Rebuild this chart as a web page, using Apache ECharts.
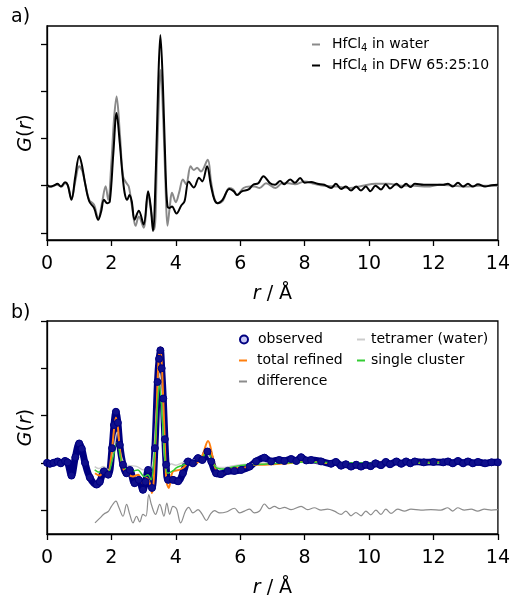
<!DOCTYPE html>
<html>
<head>
<meta charset="utf-8">
<script src="https://cdn.jsdelivr.net/npm/echarts@6/dist/echarts.min.js"></script>
<style>
  html, body { margin: 0; padding: 0; background: #fff; }
  #chart { width: 513px; height: 599px; }
</style>
</head>
<body>
<div id="chart"></div>
<script>
// panel a: G(r) of HfCl4 in two solvents, [r, G]
const water = [
  [0, 0.0], [0.15, -0.02], [0.3, 0.02], [0.45, -0.02], [0.56, 0.05], [0.65, 0.0], [0.76, -0.28],
  [0.88, 0.1], [1.0, 0.41], [1.1, 0.3], [1.2, 0.0], [1.31, -0.3], [1.46, -0.4], [1.59, -0.7],
  [1.7, -0.4], [1.82, -0.01], [1.9, -0.3], [2.0, 0.5], [2.08, 1.4], [2.16, 1.89], [2.26, 1.12],
  [2.36, 0.2], [2.46, 0.06], [2.54, -0.02], [2.64, -0.44], [2.75, -0.85], [2.85, -0.65],
  [3.0, -0.89], [3.14, -0.16], [3.22, -0.5], [3.33, -0.93], [3.42, 0.69], [3.53, 2.45],
  [3.62, 1.2], [3.68, 0.0], [3.74, -0.85], [3.82, -0.4], [3.88, -0.15], [4.0, -0.35],
  [4.1, -0.15], [4.22, 0.13], [4.32, 0.03], [4.46, 0.41], [4.56, 0.33], [4.66, 0.38],
  [4.78, 0.3], [4.99, 0.55], [5.09, 0.1], [5.2, -0.28], [5.3, -0.37], [5.45, -0.33],
  [5.66, -0.05], [5.78, -0.08], [5.9, -0.2], [6.1, -0.05], [6.3, -0.02], [6.45, -0.02],
  [6.6, -0.05], [6.8, 0.05], [7.1, -0.05], [7.3, 0.05], [7.5, 0.05], [7.7, 0.03], [8.0, 0.09],
  [8.3, 0.04], [8.6, 0.0], [9.0, -0.02], [9.4, -0.05], [9.8, 0.0], [10.2, 0.04], [10.6, 0.04],
  [11.0, 0.0], [11.4, 0.0], [11.8, -0.02], [12.2, 0.02], [12.6, 0.0], [13.0, -0.02],
  [13.4, 0.0], [14, 0.0],
]
const dfw = [
  [0, 0.02], [0.09, -0.02], [0.2, 0.0], [0.33, 0.04], [0.43, -0.02], [0.56, 0.07], [0.64, 0.02],
  [0.76, -0.3], [0.88, 0.2], [1.0, 0.63], [1.08, 0.45], [1.18, 0.06], [1.31, -0.33],
  [1.46, -0.47], [1.59, -0.72], [1.68, -0.55], [1.77, -0.3], [1.87, -0.37], [1.95, -0.33],
  [2.06, 0.69], [2.16, 1.54], [2.26, 0.9], [2.33, 0.34], [2.41, -0.15], [2.49, -0.3],
  [2.56, -0.2], [2.63, -0.33], [2.72, -0.72], [2.85, -0.53], [3.0, -0.82], [3.14, -0.12],
  [3.22, -0.44], [3.29, -0.96], [3.38, 0.34], [3.45, 2.1], [3.52, 3.19], [3.6, 2.1],
  [3.68, 0.34], [3.74, -0.44], [3.81, -0.47], [3.88, -0.44], [4.02, -0.59], [4.17, -0.42],
  [4.27, -0.33], [4.4, 0.09], [4.56, -0.04], [4.72, 0.17], [4.82, 0.09], [4.97, 0.41],
  [5.09, 0.0], [5.2, -0.3], [5.3, -0.37], [5.45, -0.3], [5.66, -0.07], [5.8, -0.12],
  [5.9, -0.2], [6.05, -0.12], [6.26, -0.08], [6.4, 0.02], [6.56, 0.05], [6.72, 0.2],
  [6.93, 0.05], [7.08, 0.02], [7.24, 0.1], [7.36, 0.03], [7.55, 0.13], [7.7, 0.06],
  [7.86, 0.16], [8.0, 0.06], [8.2, 0.08], [8.4, 0.04], [8.61, 0.02], [8.82, -0.05],
  [8.97, 0.04], [9.13, -0.07], [9.28, -0.02], [9.44, -0.1], [9.6, -0.02], [9.75, -0.1],
  [9.9, -0.02], [10.04, -0.12], [10.2, 0.0], [10.37, -0.08], [10.52, 0.03], [10.65, -0.06],
  [10.85, 0.04], [11.0, -0.04], [11.15, 0.04], [11.28, -0.03], [11.42, 0.04], [11.7, 0.02],
  [12.0, 0.02], [12.3, 0.02], [12.45, 0.04], [12.6, -0.02], [12.76, 0.06], [12.92, -0.02],
  [13.07, 0.04], [13.22, -0.02], [13.38, 0.03], [13.6, -0.02], [13.8, 0.01], [14, 0.02],
]

// panel b: fit of the DFW data, [r, G]
const observed = [
  [0, 0.0], [0.09, -0.02], [0.2, 0.0], [0.33, 0.03], [0.43, -0.01], [0.56, 0.04], [0.64, 0.01],
  [0.76, -0.27], [0.88, 0.12], [1.0, 0.41], [1.08, 0.3], [1.18, 0.0], [1.33, -0.31],
  [1.54, -0.46], [1.64, -0.4], [1.77, -0.18], [1.9, -0.25], [2.02, 0.31], [2.08, 0.8],
  [2.14, 1.08], [2.2, 0.85], [2.26, 0.38], [2.36, -0.04], [2.47, -0.22], [2.57, -0.15],
  [2.72, -0.43], [2.85, -0.36], [2.98, -0.57], [3.06, -0.4], [3.14, -0.15], [3.26, -0.53],
  [3.35, 0.31], [3.43, 1.71], [3.48, 2.2], [3.52, 2.38], [3.56, 2.0], [3.61, 1.36],
  [3.66, 0.5], [3.7, -0.04], [3.76, -0.36], [3.91, -0.36], [4.07, -0.39], [4.22, -0.22],
  [4.38, 0.03], [4.53, -0.01], [4.69, 0.1], [4.82, 0.06], [4.98, 0.24], [5.1, 0.03],
  [5.25, -0.22], [5.4, -0.24], [5.61, -0.17], [5.82, -0.17], [6.03, -0.15], [6.29, -0.08],
  [6.49, 0.03], [6.75, 0.11], [6.96, 0.03], [7.21, 0.06], [7.37, 0.04], [7.58, 0.08],
  [7.74, 0.04], [7.89, 0.12], [8.05, 0.05], [8.2, 0.06], [8.51, 0.03], [8.82, -0.02],
  [8.97, 0.02], [9.13, -0.06], [9.28, -0.03], [9.44, -0.08], [9.6, -0.04], [9.75, -0.08],
  [9.9, -0.04], [10.05, -0.07], [10.2, -0.01], [10.37, -0.05], [10.52, 0.02], [10.65, -0.03],
  [10.85, 0.03], [11.0, -0.02], [11.15, 0.03], [11.28, -0.01], [11.42, 0.03], [11.7, 0.01],
  [12.0, 0.02], [12.3, 0.01], [12.45, 0.03], [12.6, -0.01], [12.76, 0.04], [12.92, -0.01],
  [13.07, 0.03], [13.22, -0.01], [13.38, 0.02], [13.6, -0.01], [13.8, 0.01], [14, 0.01],
]
const refined = [
  [1.49, -0.22], [1.64, -0.27], [1.77, -0.15], [1.88, -0.24], [2.0, 0.17], [2.08, 0.7],
  [2.14, 0.96], [2.2, 0.75], [2.26, 0.31], [2.36, -0.11], [2.52, -0.24], [2.67, -0.29],
  [2.83, -0.25], [2.98, -0.43], [3.09, -0.32], [3.19, -0.43], [3.26, -0.64], [3.37, 0.45],
  [3.45, 1.99], [3.52, 2.45], [3.6, 1.5], [3.67, 0.17], [3.71, -0.39], [3.78, -0.53],
  [3.91, -0.18], [4.12, -0.15], [4.27, -0.08], [4.43, 0.03], [4.58, -0.01], [4.79, 0.1],
  [5.0, 0.46], [5.15, 0.1], [5.25, -0.15], [5.41, -0.24], [5.61, -0.18], [5.82, -0.11],
  [6.08, -0.11], [6.34, -0.04], [6.65, -0.04], [6.96, -0.03], [7.48, -0.01], [7.9, 0.03],
  [8.3, 0.02], [8.8, -0.01], [9.3, -0.02], [9.8, -0.01], [10.4, 0.0], [11.0, 0.01],
  [11.6, 0.0], [12.2, 0.01], [12.8, 0.0], [13.4, 0.01], [14, 0.0],
]
const difference = [
  [1.49, -1.27], [1.64, -1.17], [1.77, -1.08], [1.9, -1.03], [2.0, -0.92], [2.14, -0.81],
  [2.23, -0.94], [2.36, -1.13], [2.47, -0.88], [2.57, -1.09], [2.67, -1.27], [2.78, -1.13],
  [2.88, -1.25], [2.98, -1.09], [3.07, -1.13], [3.16, -0.67], [3.24, -0.88], [3.37, -1.09],
  [3.5, -0.88], [3.63, -1.13], [3.72, -0.85], [3.81, -1.09], [3.91, -0.92], [4.02, -0.97],
  [4.15, -1.27], [4.3, -1.02], [4.4, -0.94], [4.53, -1.06], [4.69, -0.99], [4.81, -1.08],
  [4.95, -1.22], [5.07, -1.09], [5.2, -1.01], [5.36, -1.06], [5.56, -1.04], [5.82, -0.96],
  [5.98, -1.06], [6.13, -1.02], [6.29, -0.98], [6.44, -1.06], [6.6, -1.02], [6.75, -0.87],
  [6.91, -0.97], [7.06, -0.92], [7.22, -0.97], [7.37, -0.94], [7.58, -0.99], [7.89, -0.92],
  [8.09, -0.99], [8.3, -0.95], [8.51, -1.0], [8.71, -0.98], [8.92, -1.02], [9.13, -1.09],
  [9.28, -1.02], [9.44, -1.12], [9.59, -1.05], [9.75, -1.12], [9.9, -1.02], [10.05, -1.1],
  [10.21, -1.0], [10.37, -1.09], [10.52, -0.98], [10.68, -1.07], [10.89, -0.98], [11.1, -1.02],
  [11.3, -0.98], [11.61, -1.0], [11.92, -0.99], [12.23, -1.0], [12.44, -0.95], [12.6, -1.02],
  [12.75, -0.95], [12.96, -1.0], [13.17, -0.98], [13.37, -1.02], [13.58, -0.98], [13.79, -1.0],
  [14, -0.99],
]
const tetramer = [
  [1.48, -0.08], [1.6, -0.12], [1.75, -0.08], [1.9, -0.15], [2.05, 0.2], [2.18, 0.65],
  [2.3, 0.15], [2.45, -0.05], [2.6, -0.06], [2.8, -0.08], [3.0, -0.15], [3.1, -0.1],
  [3.2, -0.2], [3.3, 0.1], [3.4, 1.1], [3.5, 1.9], [3.58, 1.0], [3.66, 0.05], [3.75, -0.1],
  [3.85, -0.02], [4.0, -0.05], [4.2, 0.0], [4.5, 0.05], [4.7, 0.1], [4.95, 0.2], [5.1, 0.05],
  [5.25, -0.08], [5.5, -0.1], [5.8, -0.06], [6.2, -0.03], [7.0, 0.0], [8.0, 0.01], [9.0, -0.01],
  [10.0, 0.0], [11.0, 0.0], [12.0, 0.0], [13.0, 0.0], [14, 0.0],
]
const single = [
  [1.48, -0.15], [1.63, -0.2], [1.79, -0.13], [1.89, -0.22], [2.04, 0.1], [2.18, 0.43],
  [2.3, 0.06], [2.41, -0.11], [2.61, -0.18], [2.82, -0.15], [3.02, -0.29], [3.13, -0.25],
  [3.23, -0.36], [3.33, 0.13], [3.42, 1.1], [3.49, 1.64], [3.59, 0.84], [3.67, 0.0],
  [3.75, -0.22], [3.95, -0.15], [4.0, -0.11], [4.25, -0.04], [4.46, 0.03], [4.67, 0.06],
  [4.82, 0.08], [4.95, 0.27], [5.1, 0.1], [5.25, -0.1], [5.5, -0.13], [5.8, -0.08],
  [6.2, -0.04], [6.72, -0.03], [7.5, 0.0], [8.0, 0.02], [9.0, 0.0], [10.0, 0.0], [11.0, 0.0],
  [12.0, 0.0], [13.0, 0.0], [14, 0.0],
]

const xTicks = [0, 2, 4, 6, 8, 10, 12, 14]
const yTicks = [-1, 0, 1, 2, 3]

const font = 'DejaVu Sans'
const ink = '#000'
const navy = '#000080'

const chart = echarts.init(document.getElementById('chart'))

const xAxisFor = (gridIndex) => ({
  type: 'value',
  gridIndex,
  min: xTicks[0],
  max: xTicks[xTicks.length - 1],
  interval: 2,
  name: '{i|r} / Å',
  nameLocation: 'middle',
  nameGap: 45,
  nameTextStyle: {
    fontFamily: font,
    fontSize: 19,
    color: ink,
    rich: { i: { fontFamily: font, fontSize: 19, fontStyle: 'italic', color: ink } },
  },
  axisLine: { onZero: false, lineStyle: { color: ink, width: 1.3 } },
  axisTick: { length: 6, lineStyle: { color: ink, width: 1.3 } },
  axisLabel: { fontFamily: font, fontSize: 19, color: ink, margin: 15 },
  splitLine: { show: false },
})

const yAxisFor = (gridIndex, min, max) => ({
  type: 'value',
  gridIndex,
  min,
  max,
  name: '{i|G}({i|r})',
  nameLocation: 'middle',
  nameGap: 11,
  nameTextStyle: {
    fontFamily: font,
    fontSize: 19,
    color: ink,
    rich: { i: { fontFamily: font, fontSize: 19, fontStyle: 'italic', color: ink } },
  },
  axisLine: { show: true, onZero: false, lineStyle: { color: ink, width: 1.3 } },
  axisTick: { length: 6, customValues: yTicks, lineStyle: { color: ink, width: 1.3 } },
  axisLabel: { show: false },
  splitLine: { show: false },
})

const lineSeries = (name, data, color, width, xAxisIndex) => ({
  name,
  type: 'line',
  data,
  xAxisIndex,
  yAxisIndex: xAxisIndex,
  smooth: 0.35,
  showSymbol: false,
  lineStyle: { color, width },
  itemStyle: { color },
})

const legendText = {
  fontFamily: font,
  fontSize: 14,
  color: ink,
  lineHeight: 21,
  rich: { sub: { fontFamily: font, fontSize: 10, color: ink, padding: [8, 0, 0, 0] } },
}

chart.setOption({
  animation: false,
  title: [
    { text: 'a)', left: 11, top: 8, padding: 0, textStyle: { fontFamily: font, fontSize: 19, fontWeight: 'normal', color: ink } },
    { text: 'b)', left: 11, top: 304, padding: 0, textStyle: { fontFamily: font, fontSize: 19, fontWeight: 'normal', color: ink } },
  ],
  grid: [
    { left: 47, top: 26, width: 452, height: 214, show: true, borderColor: ink, borderWidth: 1.3 },
    { left: 47, top: 321, width: 452, height: 214, show: true, borderColor: ink, borderWidth: 1.3 },
  ],
  xAxis: [xAxisFor(0), xAxisFor(1)],
  yAxis: [yAxisFor(0, -1.15, 3.38), yAxisFor(1, -1.505, 3)],
  legend: [
    {
      left: 312, top: 34, orient: 'vertical', padding: 0, itemGap: 0,
      itemWidth: 8, itemHeight: 2, icon: 'rect',
      formatter: (n) => n.replace('HfCl4', 'HfCl{sub|4}'),
      textStyle: { ...legendText, padding: [0, 0, 0, 7] },
      data: ['HfCl4 in water', 'HfCl4 in DFW 65:25:10'],
    },
    {
      left: 239, top: 329, orient: 'vertical', padding: 0, itemGap: 0,
      itemWidth: 8, itemHeight: 8,
      textStyle: { ...legendText, padding: [0, 0, 0, 5] },
      data: [{ name: 'observed', icon: 'circle', itemStyle: { color: '#c9c9f5', borderColor: navy, borderWidth: 2 } }],
    },
    {
      left: 239, top: 350, orient: 'vertical', padding: 0, itemGap: 0,
      itemWidth: 8, itemHeight: 2, icon: 'rect',
      textStyle: { ...legendText, padding: [0, 0, 0, 5] },
      data: ['total refined', 'difference'],
    },
    {
      left: 357, top: 329, orient: 'vertical', padding: 0, itemGap: 0,
      itemWidth: 8, itemHeight: 2, icon: 'rect',
      textStyle: { ...legendText, padding: [0, 0, 0, 1] },
      data: ['tetramer (water)', 'single cluster'],
    },
  ],
  series: [
    lineSeries('HfCl4 in water', water, '#8a8a8a', 2, 0),
    lineSeries('HfCl4 in DFW 65:25:10', dfw, '#000000', 2, 0),
    {
      name: 'observed',
      type: 'line',
      data: observed,
      xAxisIndex: 1,
      yAxisIndex: 1,
      smooth: 0.35,
      symbol: 'circle',
      symbolSize: 7,
      showAllSymbol: true,
      lineStyle: { color: navy, width: 7 },
      itemStyle: { color: '#10108c', borderColor: navy, borderWidth: 1 },
    },
    lineSeries('tetramer (water)', tetramer, '#cccccc', 1.5, 1),
    lineSeries('total refined', refined, '#ff7f0e', 2, 1),
    lineSeries('single cluster', single, '#33cc33', 1.5, 1),
    lineSeries('difference', difference, '#8c8c8c', 1.2, 1),
  ],
})
</script>
</body>
</html>
